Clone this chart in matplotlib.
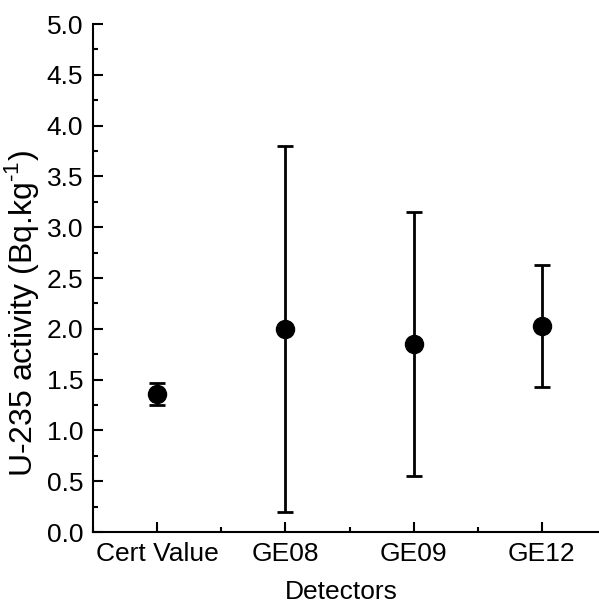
import numpy as np
import matplotlib.pyplot as plt
from matplotlib.ticker import MultipleLocator

plt.rcParams['font.family'] = ['Liberation Sans', 'DejaVu Sans']
plt.rcParams['mathtext.fontset'] = 'custom'
plt.rcParams['mathtext.rm'] = 'Liberation Sans'

detectors = ["Cert Value", "GE08", "GE09", "GE12"]
activity = [1.36, 2.00, 1.85, 2.03]
uncertainty = [0.11, 1.80, 1.30, 0.60]

fig = plt.figure(figsize=(5.99, 6.06), dpi=100)
# axes run slightly past the right edge of the figure, as in the cropped original
ax = fig.add_axes([93 / 599, 74 / 606, 513 / 599, 508 / 606])

x = np.arange(len(detectors))
ax.errorbar(x, activity, yerr=uncertainty, fmt='o', color='black',
            markersize=13, elinewidth=2, capsize=6, capthick=2)

ax.set_xlim(-0.5, 3.5)
ax.set_ylim(0, 5)
ax.set_xticks(x)
ax.set_xticklabels(detectors)
ax.xaxis.set_minor_locator(MultipleLocator(0.5))
ax.yaxis.set_major_locator(MultipleLocator(0.5))
ax.yaxis.set_minor_locator(MultipleLocator(0.25))
ax.yaxis.set_major_formatter(plt.FormatStrFormatter('%.1f'))

ax.spines['top'].set_visible(False)
ax.spines['right'].set_visible(False)
ax.spines['left'].set_linewidth(1.5)
ax.spines['bottom'].set_linewidth(1.5)
ax.tick_params(which='major', direction='in', length=7, width=1.5,
               labelsize=19, pad=7)
ax.tick_params(which='minor', direction='in', length=3.5, width=1.5)
ax.tick_params(axis='x', which='minor', bottom=True)

ax.set_xlabel("Detectors", fontsize=19)
ax.xaxis.set_label_coords(248 / 513, -0.095)
ax.set_ylabel(r"U-235 activity (Bq.kg$^{\text{-1}}$)", fontsize=23)
ax.yaxis.set_label_coords(-52 / 513, 0.43)

fig.savefig("out.png", dpi=100)
